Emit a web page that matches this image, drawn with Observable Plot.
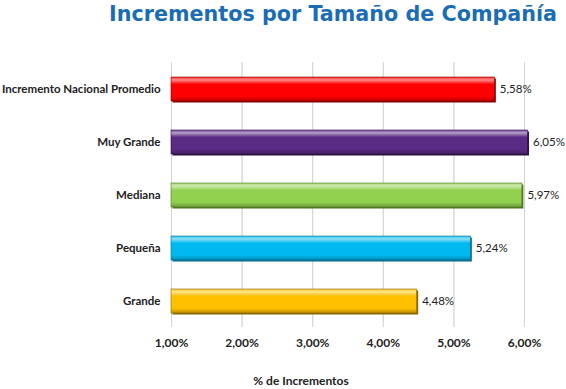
<!DOCTYPE html>
<html><head><meta charset="utf-8">
<script src="https://cdn.jsdelivr.net/npm/d3@7"></script>
<script src="https://cdn.jsdelivr.net/npm/@observablehq/plot@0.6"></script>
<style>
body{margin:0;background:#fff;width:566px;height:389px;position:relative;overflow:hidden;font-family:Lato,"Open Sans",sans-serif;}
#title{position:absolute;top:2px;right:9px;font-family:"DejaVu Sans",Verdana,sans-serif;font-weight:bold;font-size:20.7px;color:#1b6db3;white-space:nowrap;}
#chart{position:absolute;top:40px;left:0;}
#xlabel{position:absolute;top:373px;left:249px;width:104px;text-align:center;font-weight:bold;font-size:12px;color:#222;white-space:nowrap;}
</style></head>
<body>
<div id="title">Incrementos por Tamaño de Compañía</div>
<div id="chart"></div>
<div id="xlabel">% de Incrementos</div>
<script>
const categories = ["Incremento Nacional Promedio","Muy Grande","Mediana","Pequeña","Grande"];
const values = [5.58, 6.05, 5.97, 5.24, 4.48];
const ticks = [1,2,3,4,5,6];
const palette = ["#ff0000","#5a2a84","#92d050","#00b9f1","#ffc000"];
const shadows = ["#8a0000","#2c1245","#4e7a20","#006f90","#8a6800"];

const data = categories.map((c,i)=>({cat:c, v:values[i], fill:palette[i], shadow:shadows[i]}));
const fmt = d => d.toFixed(2).replace(".", ",") + "%";

const plot = Plot.plot({
  width: 566, height: 349,
  marginLeft: 171, marginRight: 42, marginTop: 22, marginBottom: 62,
  style: {fontFamily: "Lato, 'Open Sans', sans-serif", background: "transparent"},
  x: {domain: [1, 6.0001], ticks: ticks, tickFormat: fmt, tickSize: 0, tickPadding: 11, label: null, grid: true},
  y: {domain: categories, paddingInner: 0.55, paddingOuter: 0.26, label: null, tickSize: 0, tickPadding: 11},
  marks: [
    Plot.gridX(ticks, {stroke: "#d4d4d4", strokeOpacity: 1, strokeWidth: 1}),
    Plot.barX(data, {x1: 1, x2: "v", y: "cat", fill: "shadow", dx: 1.5, dy: 1.5}),
    Plot.barX(data, {x1: 1, x2: "v", y: "cat", fill: "fill"}),
    Plot.barX(data, {x1: 1, x2: "v", y: "cat", fill: "url(#shine)", stroke: "shadow", strokeWidth: 0.6}),
    Plot.text(data, {x: "v", y: "cat", text: d => fmt(d.v), textAnchor: "start", dx: 5, fontSize: 11.5, fill: "#222"}),
    Plot.axisX({ticks: ticks, tickFormat: fmt, tickSize: 0, tickPadding: 11, fontSize: 12, fontWeight: "bold", fill: "#222", label: null}),
    Plot.axisY({tickSize: 0, tickPadding: 11, fontSize: 11.5, fontWeight: "bold", fill: "#222", label: null})
  ]
});
plot.setAttribute("fill", "#222");
const ns = "http://www.w3.org/2000/svg";
const defs = document.createElementNS(ns, "defs");
defs.innerHTML = `<linearGradient id="shine" x1="0" y1="0" x2="0" y2="1">
  <stop offset="0" stop-color="#fff" stop-opacity="0.15"/>
  <stop offset="0.12" stop-color="#fff" stop-opacity="0.55"/>
  <stop offset="0.3" stop-color="#fff" stop-opacity="0.0"/>
  <stop offset="0.8" stop-color="#000" stop-opacity="0.0"/>
  <stop offset="1" stop-color="#000" stop-opacity="0.25"/>
</linearGradient>`;
plot.insertBefore(defs, plot.firstChild);
document.getElementById("chart").appendChild(plot);
</script>
</body></html>
